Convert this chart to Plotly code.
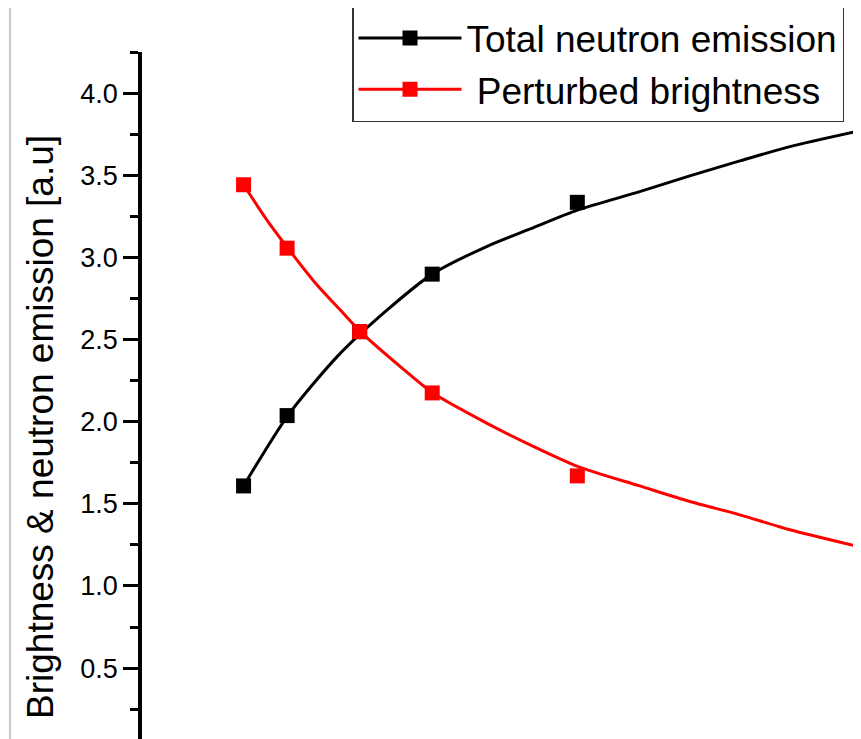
import plotly.graph_objects as go

# measured data points
x_points = [1.4, 2.0, 3.0, 4.0, 6.0]
neutron_points = [1.609, 2.037, 2.548, 2.898, 3.335]
brightness_points = [3.442, 3.056, 2.548, 2.175, 1.670]

# fitted curves
neutron_fit_x = [1.4, 2.01, 2.69, 3.38, 4.0, 4.75, 5.35, 6.01, 6.86, 7.55, 8.24, 8.93, 9.91]
neutron_fit_y = [1.609, 2.037, 2.396, 2.680, 2.898, 3.066, 3.173, 3.289, 3.400, 3.496, 3.587, 3.674, 3.772]
brightness_fit_x = [1.4, 1.72, 2.01, 2.41, 2.73, 3.01, 3.56, 4.0, 4.75, 5.35, 6.01, 6.86, 7.55, 8.24, 8.93, 9.91]
brightness_fit_y = [3.442, 3.228, 3.056, 2.833, 2.681, 2.548, 2.335, 2.177, 1.991, 1.859, 1.727, 1.609, 1.514, 1.433, 1.342, 1.236]

series_names = ["Total neutron emission", " Perturbed brightness"]
colors = ["black", "#ff0000"]
y_title = "Brightness & neutron emission [a.u]"
y_tick_vals = [0.5, 1.0, 1.5, 2.0, 2.5, 3.0, 3.5, 4.0]

FONT = "Arial, Liberation Sans, sans-serif"
OFF = 8  # page body margin
W, H = 861 - OFF, 739 - OFF
L, T = 142 - OFF, 52 - OFF

fig = go.Figure()
for fx, fy, col in [
    (neutron_fit_x, neutron_fit_y, colors[0]),
    (brightness_fit_x, brightness_fit_y, colors[1]),
]:
    fig.add_trace(go.Scatter(x=fx, y=fy, mode="lines", line=dict(color=col, width=3, shape="spline", smoothing=0.7),
                             showlegend=False, hoverinfo="skip"))
for py_, col, name in [
    (neutron_points, colors[0], series_names[0]),
    (brightness_points, colors[1], series_names[1]),
]:
    fig.add_trace(go.Scatter(x=x_points, y=py_, mode="markers",
                             marker=dict(symbol="square", size=15, color=col, line=dict(width=0)),
                             showlegend=False))
    fig.add_trace(go.Scatter(x=[None], y=[None], mode="lines+markers", name=name,
                             line=dict(color=col, width=3),
                             marker=dict(symbol="square", size=15, color=col, line=dict(width=0))))

plot_h = H - T
y_top = 4.25
px_per_unit = 164.3
y_bottom = y_top - plot_h / px_per_unit
plot_w = W - L

def px_x(p):
    return (p - OFF - L) / plot_w

def px_y(p):
    return (H - (p - OFF)) / plot_h

fig.update_layout(
    width=W, height=H,
    margin=dict(l=L, r=0, t=T, b=0, autoexpand=False),
    paper_bgcolor="white", plot_bgcolor="white",
    font=dict(family=FONT, color="black"),
    xaxis=dict(range=[0, 9.91], visible=False, showgrid=False, zeroline=False),
    yaxis=dict(range=[y_bottom, y_top], tickvals=y_tick_vals, tickformat=".1f",
               ticks="outside", ticklen=15, tickwidth=3, tickcolor="black",
               minor=dict(ticks="outside", ticklen=8, tickwidth=3, tickcolor="black", dtick=0.25, tick0=0, showgrid=False),
               showline=True, linewidth=3.5, linecolor="black", mirror=False,
               showgrid=False, zeroline=False, automargin=False,
               tickfont=dict(family=FONT, size=27, color="black")),
    legend=dict(x=px_x(352), y=px_y(6), xanchor="left", yanchor="top",
                bordercolor="#333333", borderwidth=1.5, bgcolor="white", itemwidth=103,
                font=dict(family=FONT, size=37, color="black"), tracegroupgap=0),
    annotations=[dict(text=y_title, xref="paper", yref="paper",
                      x=px_x(40), y=px_y(427), textangle=-90,
                      showarrow=False, font=dict(family=FONT, size=37, color="black"),
                      xanchor="center", yanchor="middle")],
    shapes=[dict(type="line", xref="paper", yref="paper", x0=px_x(10), x1=px_x(10),
                 y0=-0.05, y1=1.1, line=dict(color="#c8c8c8", width=2), layer="below")],
)

fig.write_html("out.html")
